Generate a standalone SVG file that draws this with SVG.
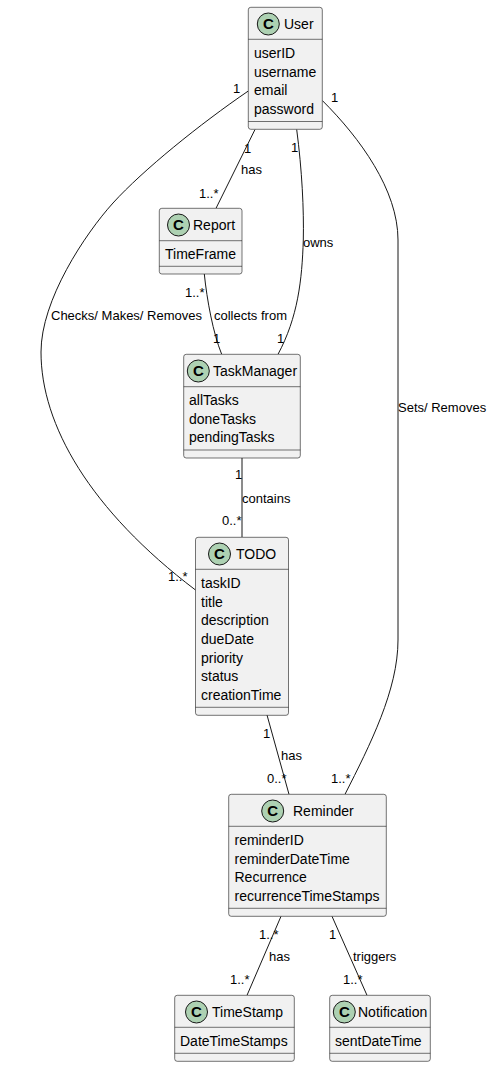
<svg xmlns="http://www.w3.org/2000/svg" width="494" height="1067" viewBox="0 0 494 1067">
<style>
text{font-family:"Liberation Sans",Arial,sans-serif;font-size:14px;fill:#000}
.l{font-size:13px}
.b{fill:#F1F1F1;stroke:#181818;stroke-width:.6}
.s{stroke:#181818;stroke-width:.6;fill:none}
.c{fill:#ADD1B2;stroke:#181818;stroke-width:1}
.g{font-size:15px;font-weight:bold;text-anchor:middle}
#edges path{fill:none;stroke:#181818;stroke-width:1}
</style>
<rect width="494" height="1067" fill="#fff"/>
<g id="edges">
<path d="M248.300 91C200 124 143 170 113 203C85 234 41 300 41 352C41 425 90 510 195.500 590"/>
<path d="M255 129.500L216 208.300"/>
<path d="M296.700 129.500C302 170 304 210 303.300 240C302 280 298 317 278 354.300"/>
<path d="M322.300 100.500C360 138 398 190 398 240L398 640C398 690 370 745 345 794.300"/>
<path d="M204.300 274C207 300 213 333 221.700 354.300"/>
<path d="M242 458L242 537"/>
<path d="M267 715L289 794.300"/>
<path d="M281 916.300L247 995.300"/>
<path d="M332 916.300L367 995.300"/>
</g>
<g id="edge-labels">
<text class="l" x="233" y="93">1</text>
<text class="l" x="331" y="102">1</text>
<text class="l" x="244" y="153">1</text>
<text class="l" x="241" y="174">has</text>
<text class="l" x="199" y="198">1..*</text>
<text class="l" x="291" y="152">1</text>
<text class="l" x="303" y="247">owns</text>
<text class="l" x="51" y="320">Checks/ Makes/ Removes</text>
<text class="l" x="398" y="412">Sets/ Removes</text>
<text class="l" x="185" y="297">1..*</text>
<text class="l" x="214" y="320">collects from</text>
<text class="l" x="213" y="343">1</text>
<text class="l" x="277" y="343">1</text>
<text class="l" x="235" y="479">1</text>
<text class="l" x="242" y="503">contains</text>
<text class="l" x="222" y="525">0..*</text>
<text class="l" x="168" y="581">1..*</text>
<text class="l" x="263" y="738">1</text>
<text class="l" x="281" y="760">has</text>
<text class="l" x="267" y="783">0..*</text>
<text class="l" x="331" y="783">1..*</text>
<text class="l" x="259" y="939">1..*</text>
<text class="l" x="269" y="961">has</text>
<text class="l" x="329" y="939">1</text>
<text class="l" x="353" y="961">triggers</text>
<text class="l" x="230" y="984">1..*</text>
<text class="l" x="343" y="984">1..*</text>
</g>
<g id="User">
<rect class="b" x="248.300" y="7.300" width="74" height="122" rx="2.500"/>
<path class="s" d="M248.300 39.300H322.300M248.300 121.500H322.300"/>
<circle class="c" cx="268.300" cy="24" r="11"/><text class="g" x="268.300" y="29">C</text>
<text x="284" y="29">User</text>
<text x="254" y="58">userID</text><text x="254" y="77">username</text><text x="254" y="95">email</text><text x="254" y="114">password</text>
</g>
<g id="Report">
<rect class="b" x="159.300" y="208.300" width="82.700" height="65.700" rx="2.500"/>
<path class="s" d="M159.300 240.700H242M159.300 266.300H242"/>
<circle class="c" cx="178.500" cy="225" r="11"/><text class="g" x="178.500" y="230">C</text>
<text x="193" y="230">Report</text>
<text x="165" y="259">TimeFrame</text>
</g>
<g id="TaskManager">
<rect class="b" x="183.700" y="354.300" width="116.600" height="103.700" rx="2.500"/>
<path class="s" d="M183.700 386.700H300.300M183.700 450H300.300"/>
<circle class="c" cx="198.300" cy="371" r="11"/><text class="g" x="198.300" y="376">C</text>
<text x="213" y="376">TaskManager</text>
<text x="189" y="405">allTasks</text><text x="189" y="424">doneTasks</text><text x="189" y="442">pendingTasks</text>
</g>
<g id="TODO">
<rect class="b" x="195.500" y="537.300" width="93" height="178" rx="2.500"/>
<path class="s" d="M195.500 569.300H288.500M195.500 707.300H288.500"/>
<circle class="c" cx="219.500" cy="554" r="11"/><text class="g" x="219.500" y="559">C</text>
<text x="236" y="559">TODO</text>
<text x="201" y="588">taskID</text><text x="201" y="607">title</text><text x="201" y="625">description</text><text x="201" y="644">dueDate</text><text x="201" y="663">priority</text><text x="201" y="681">status</text><text x="201" y="700">creationTime</text>
</g>
<g id="Reminder">
<rect class="b" x="228.700" y="794.300" width="157.600" height="122" rx="2.500"/>
<path class="s" d="M228.700 826.300H386.300M228.700 908.300H386.300"/>
<circle class="c" cx="272.700" cy="811" r="11"/><text class="g" x="272.700" y="816">C</text>
<text x="293" y="816">Reminder</text>
<text x="234.500" y="845">reminderID</text><text x="234.500" y="864">reminderDateTime</text><text x="234.500" y="882">Recurrence</text><text x="234.500" y="901">recurrenceTimeStamps</text>
</g>
<g id="TimeStamp">
<rect class="b" x="174.700" y="995.300" width="119.600" height="66" rx="2.500"/>
<path class="s" d="M174.700 1027.300H294.300M174.700 1053.300H294.300"/>
<circle class="c" cx="196.500" cy="1012" r="11"/><text class="g" x="196.500" y="1017">C</text>
<text x="212" y="1017">TimeStamp</text>
<text x="180" y="1046">DateTimeStamps</text>
</g>
<g id="Notification">
<rect class="b" x="329.700" y="995.300" width="100.600" height="66" rx="2.500"/>
<path class="s" d="M329.700 1027.300H430.300M329.700 1053.300H430.300"/>
<circle class="c" cx="344.300" cy="1012" r="11"/><text class="g" x="344.300" y="1017">C</text>
<text x="358" y="1017">Notification</text>
<text x="335" y="1046">sentDateTime</text>
</g>
</svg>
